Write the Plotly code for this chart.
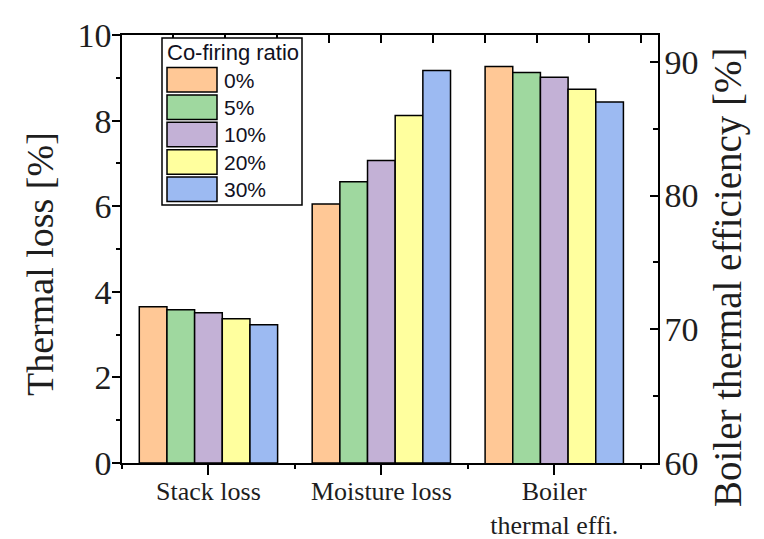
import plotly.graph_objects as go

# ---- data ----
ratios = ["0%", "5%", "10%", "20%", "30%"]
categories = ["Stack loss", "Moisture loss", "Boiler<br>thermal effi."]
stack_loss = [3.65, 3.58, 3.51, 3.37, 3.23]
moisture_loss = [6.05, 6.57, 7.07, 8.12, 9.17]
boiler_eff = [89.65, 89.2, 88.85, 87.95, 87.0]
colors = ["#FFC896", "#9FD89F", "#C3B1D6", "#FFFF9E", "#9CBAF2"]

# ---- layout geometry (page px; page has an 8px body margin) ----
O = 8
W, H = 764 - O, 539 - O
L, R, T, B = 122, 658, 35, 463   # plot area in page pixels
pw, ph = R - L, B - T

def px_x(v):
    return (v - L) / pw

def px_y(v):
    return (B - v) / ph

fig = go.Figure()
bw = 0.16
for i, name in enumerate(ratios):
    off = -0.4 + bw * i
    fig.add_trace(go.Bar(
        x=[1, 2], y=[stack_loss[i], moisture_loss[i]], name=name,
        marker=dict(color=colors[i], line=dict(color="black", width=1.5)),
        width=bw, offset=off, yaxis="y", showlegend=False))
    fig.add_trace(go.Bar(
        x=[3], y=[boiler_eff[i]], name=name,
        marker=dict(color=colors[i], line=dict(color="black", width=1.5)),
        width=bw, offset=off, yaxis="y2", showlegend=False))

# dummy trace to activate the top tick axis
fig.add_trace(go.Scatter(x=[0], y=[0], xaxis="x2", yaxis="y", mode="markers",
                         marker=dict(opacity=0), hoverinfo="skip", showlegend=False))

serif = "Liberation Serif"
sans = "Liberation Sans"
txt = "#1e1e1e"

shapes = []
annotations = []
# custom legend
shapes.append(dict(type="rect", xref="paper", yref="paper",
                   x0=px_x(162), x1=px_x(302), y0=px_y(205), y1=px_y(38),
                   line=dict(color="black", width=1.5), fillcolor="white", layer="above"))
annotations.append(dict(text="Co-firing ratio", xref="paper", yref="paper",
                        x=px_x(165), y=px_y(52), xanchor="left", yanchor="middle",
                        showarrow=False, font=dict(family=sans, size=22, color="#111122")))
for i, name in enumerate(ratios):
    top = 67.5 + 27.4 * i
    shapes.append(dict(type="rect", xref="paper", yref="paper",
                       x0=px_x(167), x1=px_x(217), y0=px_y(top + 24.5), y1=px_y(top),
                       line=dict(color="black", width=1.5), fillcolor=colors[i], layer="above"))
    annotations.append(dict(text=name, xref="paper", yref="paper",
                            x=px_x(222), y=px_y(top + 12.5), xanchor="left", yanchor="middle",
                            showarrow=False, font=dict(family=sans, size=21, color="#111122")))

# axis titles
annotations.append(dict(text="Thermal loss [%]", xref="paper", yref="paper",
                        x=px_x(40), y=px_y(264), xanchor="center", yanchor="middle",
                        textangle=-90, showarrow=False,
                        font=dict(family=serif, size=38, color=txt)))
annotations.append(dict(text="Boiler thermal efficiency [%]", xref="paper", yref="paper",
                        x=px_x(728), y=px_y(277), xanchor="center", yanchor="middle",
                        textangle=-90, showarrow=False,
                        font=dict(family=serif, size=39, color=txt)))

fig.update_layout(
    width=W, height=H,
    margin=dict(l=L - O, r=W - (R - O), t=T - O, b=H - (B - O), autoexpand=False),
    paper_bgcolor="white", plot_bgcolor="white",
    barmode="overlay",
    shapes=shapes, annotations=annotations,
    xaxis=dict(range=[0.5, 3.6], tickmode="array", tickvals=[1, 2, 3], ticktext=categories,
               ticks="outside", ticklen=10, tickwidth=1.5, tickcolor="black", automargin=False,
               ticklabelstandoff=-6,
               showline=True, linecolor="black", linewidth=1.5, showgrid=False, zeroline=False,
               tickfont=dict(family=serif, size=26, color=txt),
               minor=dict(tickmode="array", tickvals=[0.5, 1.5, 2.5, 3.5], ticks="outside",
                          ticklen=4, tickwidth=1.5, tickcolor="black")),
    xaxis2=dict(overlaying="x", side="top", anchor="y", range=[0, pw], automargin=False,
                tick0=51, dtick=52, ticks="inside", ticklen=8, tickwidth=1.5, tickcolor="black",
                showticklabels=False, showline=True, linecolor="black", linewidth=1.5,
                showgrid=False, zeroline=False),
    yaxis=dict(range=[0, 10], dtick=2, ticks="outside", ticklen=8, tickwidth=1.5,
               tickcolor="black", showline=True, linecolor="black", linewidth=1.5,
               showgrid=False, zeroline=False, automargin=False, ticklabelstandoff=-6,
               tickfont=dict(family=serif, size=34, color=txt),
               minor=dict(dtick=1, ticks="outside", ticklen=4, tickwidth=1.5, tickcolor="black")),
    yaxis2=dict(overlaying="y", side="right", anchor="x", range=[60, 92], dtick=10,
                ticks="inside", ticklen=8, tickwidth=1.5, tickcolor="black", automargin=False,
                ticklabelstandoff=-2,
                showline=True, linecolor="black", linewidth=1.5, showgrid=False, zeroline=False,
                tickfont=dict(family=serif, size=34, color=txt),
                minor=dict(dtick=5, ticks="inside", ticklen=5, tickwidth=1.5, tickcolor="black")),
)

fig.write_html("out.html")
